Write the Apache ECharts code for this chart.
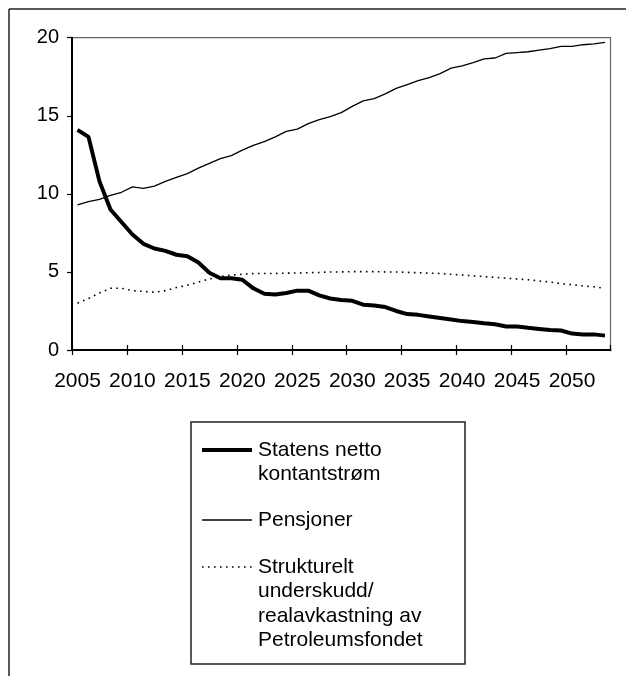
<!DOCTYPE html>
<html>
<head>
<meta charset="utf-8">
<script src="https://cdn.jsdelivr.net/npm/echarts@6/dist/echarts.min.js"></script>
<style>
html,body{margin:0;padding:0;background:#fff;}
#chart{width:626px;height:676px;}
</style>
</head>
<body>
<div id="chart"></div>
<script>
var years = [];
for (var y = 2005; y <= 2053; y++) years.push(String(y));

var seriesNames = ['Statens netto\nkontantstrøm', 'Pensjoner', 'Strukturelt\nunderskudd/\nrealavkastning av\nPetroleumsfondet'];

var nettoKontantstrom = [14.1, 13.65, 10.8, 9.0, 8.2, 7.4, 6.8, 6.5, 6.35, 6.1,
  6.0, 5.6, 4.95, 4.6, 4.6, 4.5, 3.95, 3.6, 3.55, 3.65,
  3.8, 3.8, 3.5, 3.3, 3.2, 3.15, 2.9, 2.85, 2.75, 2.5,
  2.3, 2.25, 2.15, 2.05, 1.95, 1.85, 1.8, 1.72, 1.65, 1.5,
  1.5, 1.42, 1.35, 1.28, 1.25, 1.05, 1.0, 1.0, 0.92];

var pensjoner = [9.3, 9.5, 9.65, 9.9, 10.1, 10.45, 10.35, 10.5, 10.8, 11.05,
  11.3, 11.65, 11.95, 12.25, 12.45, 12.8, 13.1, 13.35, 13.65, 14.0,
  14.15, 14.5, 14.75, 14.95, 15.2, 15.6, 15.95, 16.1, 16.4, 16.75,
  17.0, 17.25, 17.45, 17.7, 18.05, 18.2, 18.4, 18.65, 18.7, 19.0,
  19.05, 19.1, 19.2, 19.3, 19.45, 19.45, 19.55, 19.6, 19.7];

var struktureltUnderskudd = [3.0, 3.3, 3.65, 3.95, 3.95, 3.8, 3.75, 3.7, 3.8, 4.0,
  4.15, 4.35, 4.55, 4.7, 4.8, 4.85, 4.9, 4.9, 4.9, 4.92,
  4.93, 4.95, 4.97, 5.0, 5.0, 5.02, 5.02, 5.02, 5.0, 5.0,
  4.97, 4.95, 4.92, 4.9, 4.85, 4.8, 4.75, 4.7, 4.65, 4.6,
  4.55, 4.5, 4.42, 4.35, 4.25, 4.18, 4.1, 4.05, 3.95];

var yTicks = { min: 0, max: 20, interval: 5 };

var FONT = '"Liberation Sans", Arial, sans-serif';
var FS_X = 21, FS_Y = 20, FS_LEG = 21;

var lineStyles = [
  { color: '#000', width: 4, type: 'solid' },
  { color: '#000', width: 1.3, type: 'solid' },
  { color: '#000', width: 1.6, type: [1.6, 4.4] }
];
var seriesData = [nettoKontantstrom, pensjoner, struktureltUnderskudd];

var chart = echarts.init(document.getElementById('chart'), null, { renderer: 'canvas' });

var series = seriesData.map(function (d, i) {
  return {
    name: seriesNames[i],
    type: 'line',
    data: d,
    showSymbol: false,
    symbol: 'none',
    smooth: false,
    lineStyle: lineStyles[i],
    z: 3 - i,
    animation: false
  };
});

// Legend drawn as graphic group built from the series names/styles
var legendX = 191, legendY = 422, legendW = 274, legendH = 242;
var lineH = 24.5;
var itemStarts = [450, 520, 567];
var graphics = [
  { type: 'line', shape: { x1: 9, y1: 9, x2: 626, y2: 9 }, style: { stroke: '#222', lineWidth: 1.5 }, silent: true },
  { type: 'line', shape: { x1: 9, y1: 9, x2: 9, y2: 676 }, style: { stroke: '#222', lineWidth: 1.5 }, silent: true },
  { type: 'rect', shape: { x: legendX, y: legendY, width: legendW, height: legendH },
    style: { fill: '#fff', stroke: '#222', lineWidth: 1.5 }, silent: true },
  // hide the automatic closing tick at the far right end of the band axis
  { type: 'rect', shape: { x: 608, y: 351.2, width: 6, height: 6 }, style: { fill: '#fff' }, silent: true, z: 100 }
];
seriesNames.forEach(function (name, i) {
  var yy = itemStarts[i];
  var ls = lineStyles[i];
  graphics.push({
    type: 'line', shape: { x1: 202, y1: yy, x2: 252, y2: yy },
    style: { stroke: ls.color, lineWidth: ls.width, lineDash: (ls.type === 'solid' ? null : ls.type) },
    silent: true
  });
  graphics.push({
    type: 'text', x: 258, y: yy - lineH / 2,
    style: { text: name, fill: '#000', font: FS_LEG + 'px ' + FONT, lineHeight: lineH, verticalAlign: 'top', align: 'left' },
    silent: true
  });
});

var option = {
  animation: false,
  backgroundColor: '#fff',
  grid: {
    left: 72, right: 15.5, top: 37.7, bottom: 326,
    show: true, borderColor: '#666', borderWidth: 1.2, backgroundColor: 'transparent'
  },
  xAxis: [
    {
      type: 'category', data: years, boundaryGap: true,
      axisLine: { show: true, lineStyle: { color: '#000', width: 2 } },
      axisTick: { show: true, interval: 4, length: 5, lineStyle: { color: '#000', width: 1.2 } },
      axisLabel: { interval: 4, margin: 21, color: '#000', fontSize: FS_X, fontFamily: FONT },
      splitLine: { show: false }
    },
    {
      type: 'category', data: years, boundaryGap: true, position: 'bottom',
      axisLine: { show: false },
      axisTick: { show: true, inside: true, interval: 4, length: 5, lineStyle: { color: '#000', width: 1.2 } },
      axisLabel: { show: false },
      splitLine: { show: false }
    }
  ],
  yAxis: {
    type: 'value', min: yTicks.min, max: yTicks.max, interval: yTicks.interval,
    axisLine: { show: true, lineStyle: { color: '#000', width: 2 } },
    axisTick: { show: true, length: 5, lineStyle: { color: '#000', width: 1.2 } },
    axisLabel: { margin: 13, color: '#000', fontSize: FS_Y, fontFamily: FONT },
    splitLine: { show: false }
  },
  series: series,
  graphic: graphics
};
chart.setOption(option);
</script>
</body>
</html>
